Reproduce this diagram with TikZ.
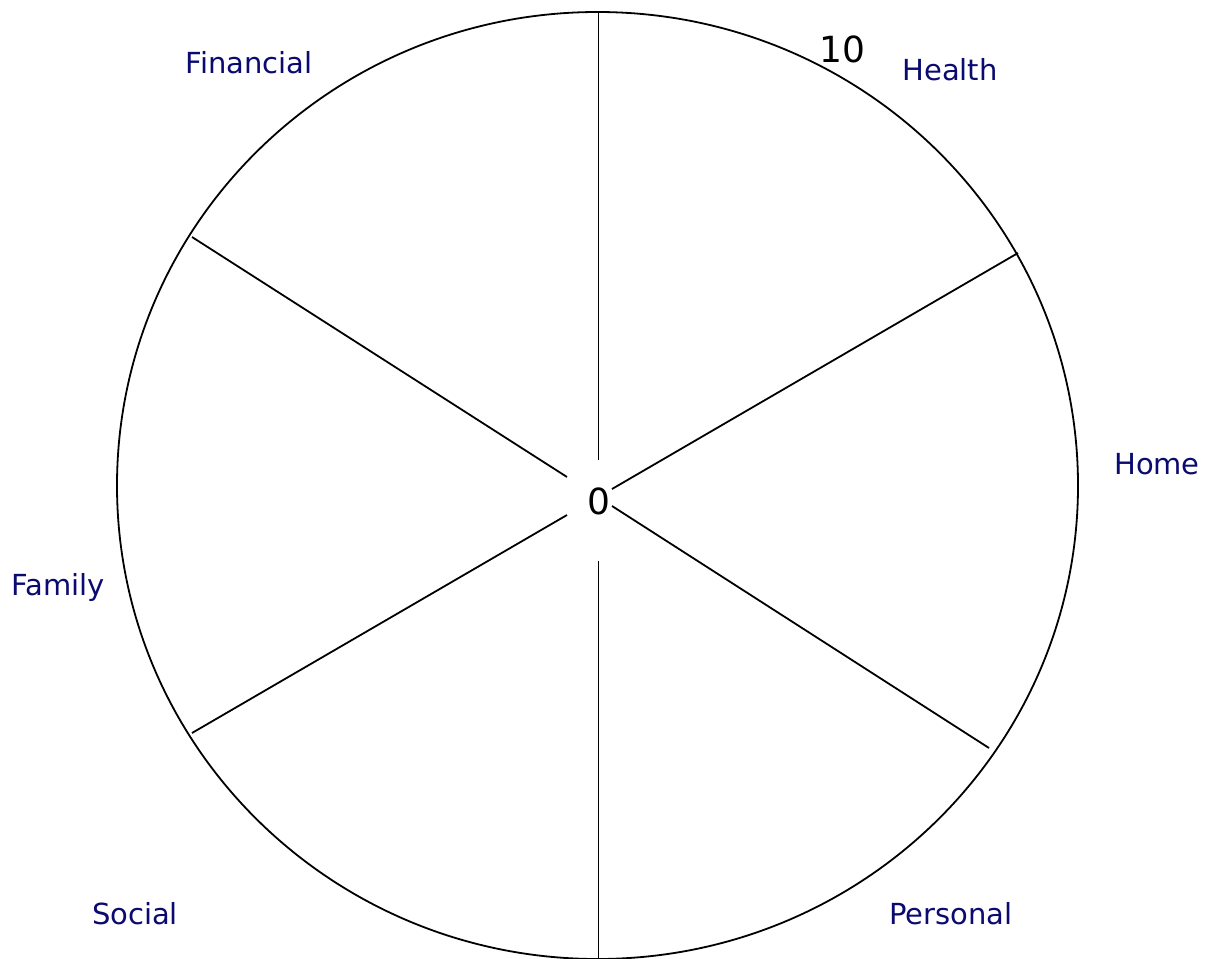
\documentclass[tikz,border=0pt]{standalone}
\usepackage{fontspec}
\setmainfont{DejaVu Sans}
\usetikzlibrary{positioning}
\definecolor{wlNavy}{HTML}{0A0A70}
\tikzset{
  wlrim/.style={draw=black, line width=1.8pt},
  wlspoke/.style={draw=black, line width=1.8pt},
  wlarea/.style={font=\fontsize{29}{33}\selectfont, text=wlNavy, anchor=base, inner sep=0pt},
  wlscale/.style={font=\fontsize{36}{40}\selectfont, text=black, anchor=base, inner sep=0pt}
}
\begin{document}
\begin{tikzpicture}[x=1pt, y=-1pt]
  \useasboundingbox (0,0) rectangle (1209,958);
  % wheel rim
  \coordinate (hub) at (597.5,485.5);
  \draw[wlrim] (hub) ellipse [x radius=480.5pt, y radius=473.5pt];
  % spoke ends
  \coordinate (hubN)  at (598.5,460);
  \coordinate (rimN)  at (598.5,12);
  \coordinate (hubS)  at (598.5,561);
  \coordinate (rimS)  at (598.5,960);
  \coordinate (hubNE) at (612,489);
  \coordinate (rimNE) at (1018,253);
  \coordinate (hubSE) at (612,506);
  \coordinate (rimSE) at (989,748);
  \coordinate (hubNW) at (567,477);
  \coordinate (rimNW) at (192,237);
  \coordinate (hubSW) at (567,515);
  \coordinate (rimSW) at (192,733);
  \draw[wlspoke] (hubN) -- (rimN);
  \draw[wlspoke] (hubS) -- (rimS);
  \draw[wlspoke] (hubNE) -- (rimNE);
  \draw[wlspoke] (hubSE) -- (rimSE);
  \draw[wlspoke] (hubNW) -- (rimNW);
  \draw[wlspoke] (hubSW) -- (rimSW);
  % scale
  \node[wlscale] (zero) at (599,514) {0};
  \node[wlscale] (ten) at (842,63) {10};
  % areas
  \node[wlarea] (financial) at (249,74) {Financial};
  \node[wlarea] (health) at (950,81) {Health};
  \node[wlarea] (home) at (1157,474) {Home};
  \node[wlarea] (family) at (58,595) {Family};
  \node[wlarea] (social) at (135,924) {Social};
  \node[wlarea] (personal) at (951,924) {Personal};
\end{tikzpicture}
\end{document}
